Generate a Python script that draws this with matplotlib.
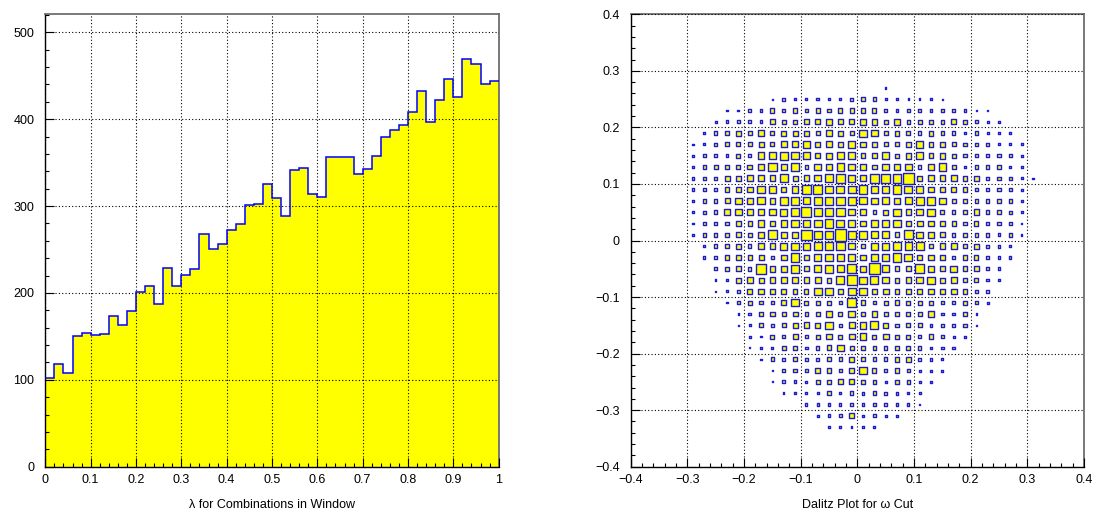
import matplotlib
matplotlib.use('Agg')
import matplotlib.pyplot as plt
import numpy as np
from matplotlib.patches import Rectangle
from matplotlib.collections import PatchCollection
from matplotlib.ticker import MultipleLocator, FixedLocator, FixedFormatter

plt.rcParams['font.family'] = ['Liberation Sans', 'DejaVu Sans']

# ---------------- data: left histogram ----------------
lam_edges = np.linspace(0.0, 1.0, 51)
lam_counts = [102, 118, 108, 151, 154, 152, 153, 173, 163, 179,
              201, 208, 187, 229, 208, 221, 227, 268, 251, 256,
              273, 279, 301, 302, 325, 309, 289, 342, 344, 314,
              310, 356, 357, 357, 337, 343, 358, 380, 387, 393,
              408, 432, 397, 422, 446, 426, 469, 464, 440, 444]
lam_xticks = [0, 0.1, 0.2, 0.3, 0.4, 0.5, 0.6, 0.7, 0.8, 0.9, 1.0]
lam_xticklabels = ['0', '0.1', '0.2', '0.3', '0.4', '0.5', '0.6', '0.7', '0.8', '0.9', '1']
lam_yticks = [0, 100, 200, 300, 400, 500]
lam_yticklabels = ['0', '100', '200', '300', '400', '500']

# ---------------- data: Dalitz box plot ----------------
dal_x_centers = [round(-0.29 + 0.02 * j, 2) for j in range(31)]
dal_y_centers = [round(0.27 - 0.02 * i, 2) for i in range(31)]
dal_full = 32.0  # content that fills a whole cell
dal_cells = [
    [0,0,0,0,0,0,0,0,0,0,0,0,0,0,0,0,0,4,0,0,0,0,0,0,0,0,0,0,0,0,0],
    [0,0,0,0,0,0,0,3,8,7,6,7,7,6,8,12,10,6,6,4,4,4,3,0,0,0,0,0,0,0,0],
    [0,0,0,4,5,7,8,12,10,12,7,12,10,12,12,14,12,8,8,8,10,8,8,8,8,4,4,0,0,0,0],
    [0,0,5,8,8,9,8,14,11,11,13,13,17,13,14,16,16,12,16,10,12,12,10,14,10,8,6,6,0,0,0],
    [0,6,9,10,14,12,15,12,14,14,14,12,15,14,12,20,18,12,14,12,10,14,10,10,8,10,6,6,5,0,0],
    [4,6,10,11,12,12,14,12,17,17,20,15,17,16,19,16,16,12,12,16,20,14,16,12,10,10,8,6,6,5,0],
    [6,10,10,8,12,10,18,20,22,20,18,14,16,20,18,14,14,20,12,16,18,14,16,12,10,10,8,10,8,6,0],
    [6,10,12,12,12,14,18,25,18,20,10,18,18,20,18,18,14,18,16,18,10,18,20,12,8,10,10,10,6,6,0],
    [8,7,9,14,14,18,18,16,22,14,16,18,22,24,20,16,26,26,24,30,14,18,16,16,14,14,10,10,10,6,4],
    [8,8,8,12,14,16,20,20,14,18,24,26,20,22,22,24,18,18,24,22,20,16,14,14,12,10,10,10,8,6,0],
    [8,10,10,14,18,18,20,16,22,24,20,22,24,24,22,20,18,20,18,20,22,24,18,12,12,10,10,12,10,6,0],
    [5,8,10,16,18,16,16,18,20,22,28,22,22,24,18,16,10,14,20,16,18,20,12,10,10,16,10,10,8,6,0],
    [5,8,10,10,16,12,18,16,18,22,18,22,24,22,20,16,20,18,20,14,16,16,14,12,10,12,10,10,8,4,0],
    [4,10,10,12,14,12,18,26,18,18,30,22,24,32,22,24,20,20,14,26,18,16,14,10,12,10,10,8,10,4,0],
    [0,6,10,12,14,10,18,16,20,20,20,22,22,24,18,10,20,19,21,21,23,11,16,17,10,15,9,8,6,0,0],
    [0,6,10,12,14,12,14,8,16,24,16,20,20,20,18,16,18,20,23,22,14,16,14,10,12,12,8,8,6,0,0],
    [0,0,8,10,14,10,28,16,18,22,14,20,22,20,26,16,30,20,14,14,26,16,14,18,14,14,8,8,0,0,0],
    [0,0,4,8,14,18,14,16,18,16,16,16,14,22,28,20,22,18,14,16,18,20,14,16,12,12,8,6,0,0,0],
    [0,0,4,6,8,14,16,14,14,12,12,22,20,14,22,20,14,16,14,16,14,16,16,16,12,10,8,0,0,0,0],
    [0,0,0,4,8,12,10,8,14,20,12,12,12,10,24,14,10,12,14,12,12,12,10,10,12,10,6,0,0,0,0],
    [0,0,0,0,4,8,12,14,12,14,10,12,18,12,18,14,16,12,14,12,12,16,8,8,10,4,0,0,0,0,0],
    [0,0,0,0,4,6,12,10,12,14,16,14,20,10,16,18,22,14,10,12,12,8,10,10,10,4,0,0,0,0,0],
    [0,0,0,0,0,6,4,12,10,14,10,12,16,12,16,18,12,16,12,12,10,14,10,6,6,0,0,0,0,0,0],
    [0,0,0,0,0,3,6,6,12,10,8,10,14,18,12,10,10,10,12,12,10,8,8,8,0,0,0,0,0,0,0],
    [0,0,0,0,0,0,4,10,8,10,8,8,10,10,14,10,10,10,14,14,8,8,6,0,0,0,0,0,0,0,0],
    [0,0,0,0,0,0,0,4,10,10,8,14,14,10,14,22,12,10,12,8,6,6,6,0,0,0,0,0,0,0,0],
    [0,0,0,0,0,0,0,3,8,8,6,12,12,14,14,12,10,6,12,10,6,6,0,0,0,0,0,0,0,0,0],
    [0,0,0,0,0,0,0,0,4,6,6,6,10,6,10,8,10,8,8,6,6,0,0,0,0,0,0,0,0,0,0],
    [0,0,0,0,0,0,0,0,0,0,6,6,8,6,10,8,8,8,8,6,4,0,0,0,0,0,0,0,0,0,0],
    [0,0,0,0,0,0,0,0,0,0,0,6,8,8,14,6,8,6,4,0,0,0,0,0,0,0,0,0,0,0,0],
    [0,0,0,0,0,0,0,0,0,0,0,0,4,6,4,6,6,0,0,0,0,0,0,0,0,0,0,0,0,0,0],
]
dal_bin = 0.02
dal_ticks = [-0.4, -0.3, -0.2, -0.1, 0.0, 0.1, 0.2, 0.3, 0.4]
dal_ticklabels = ['\u22120.4', '\u22120.3', '\u22120.2', '\u22120.1', '0', '0.1', '0.2', '0.3', '0.4']

left_title = '\u03bb for Combinations in Window'
right_title = 'Dalitz Plot for \u03c9 Cut'

# ---------------- figure ----------------
W, H = 1094, 517
fig = plt.figure(figsize=(W / 100, H / 100), dpi=100)
fig.patch.set_facecolor('white')

bottom = (H - 466.7) / H
height = (466.7 - 14.3) / H
ax1 = fig.add_axes([45.3 / W, bottom, (498.7 - 45.3) / W, height])
ax2 = fig.add_axes([630.7 / W, bottom, (1084.0 - 630.7) / W, height])

YELLOW = '#ffff00'
BLUE = '#0000ff'
GRID = dict(color='black', linestyle=(0, (1, 2)), linewidth=0.8)


def style_axes(ax):
    ax.set_axisbelow(False)
    for side in ('left', 'bottom'):
        ax.spines[side].set_color('black')
        ax.spines[side].set_linewidth(1.0)
    for side in ('top', 'right'):
        ax.spines[side].set_color('#6e6e6e')
        ax.spines[side].set_linewidth(1.3)
    ax.tick_params(which='both', direction='in', top=False, right=False,
                   width=0.8, colors='black', labelsize=9)
    ax.tick_params(which='major', length=6.3)
    ax.tick_params(which='minor', length=3.2)
    ax.tick_params(axis='y', which='major', pad=8)
    ax.tick_params(axis='x', which='major', pad=5)
    ax.grid(True, which='major', **GRID)


# left histogram
ax1.stairs(lam_counts, lam_edges, fill=True, color=YELLOW, zorder=1)
ax1.stairs(lam_counts, lam_edges, baseline=None, color=BLUE, linewidth=1.1, zorder=3)
ax1.set_xlim(0, 1)
ax1.set_ylim(0, 520.7)
ax1.xaxis.set_major_locator(FixedLocator(lam_xticks))
ax1.xaxis.set_major_formatter(FixedFormatter(lam_xticklabels))
ax1.xaxis.set_minor_locator(MultipleLocator(0.02))
ax1.yaxis.set_major_locator(FixedLocator(lam_yticks))
ax1.yaxis.set_major_formatter(FixedFormatter(lam_yticklabels))
ax1.yaxis.set_minor_locator(MultipleLocator(20))
style_axes(ax1)

# right box plot
rects = []
for i, yc in enumerate(dal_y_centers):
    for j, xc in enumerate(dal_x_centers):
        c = dal_cells[i][j]
        if c <= 0:
            continue
        side = c / dal_full * dal_bin
        rects.append(Rectangle((xc - side / 2, yc - side / 2), side, side))
pc = PatchCollection(rects, facecolor=YELLOW, edgecolor='#1a1ad8', linewidth=1.0, zorder=3)
ax2.add_collection(pc)
ax2.set_xlim(-0.4, 0.4)
ax2.set_ylim(-0.4, 0.4)
ax2.xaxis.set_major_locator(FixedLocator(dal_ticks))
ax2.xaxis.set_major_formatter(FixedFormatter(dal_ticklabels))
ax2.yaxis.set_major_locator(FixedLocator(dal_ticks))
ax2.yaxis.set_major_formatter(FixedFormatter(dal_ticklabels))
ax2.xaxis.set_minor_locator(MultipleLocator(0.02))
ax2.yaxis.set_minor_locator(MultipleLocator(0.02))
style_axes(ax2)

fig.text((45.3 + 498.7) / 2 / W, 1 - 505 / H, left_title, ha='center', va='center', fontsize=9)
fig.text((630.7 + 1084.0) / 2 / W, 1 - 505 / H, right_title, ha='center', va='center', fontsize=9)

fig.savefig('out.png', dpi=100)
